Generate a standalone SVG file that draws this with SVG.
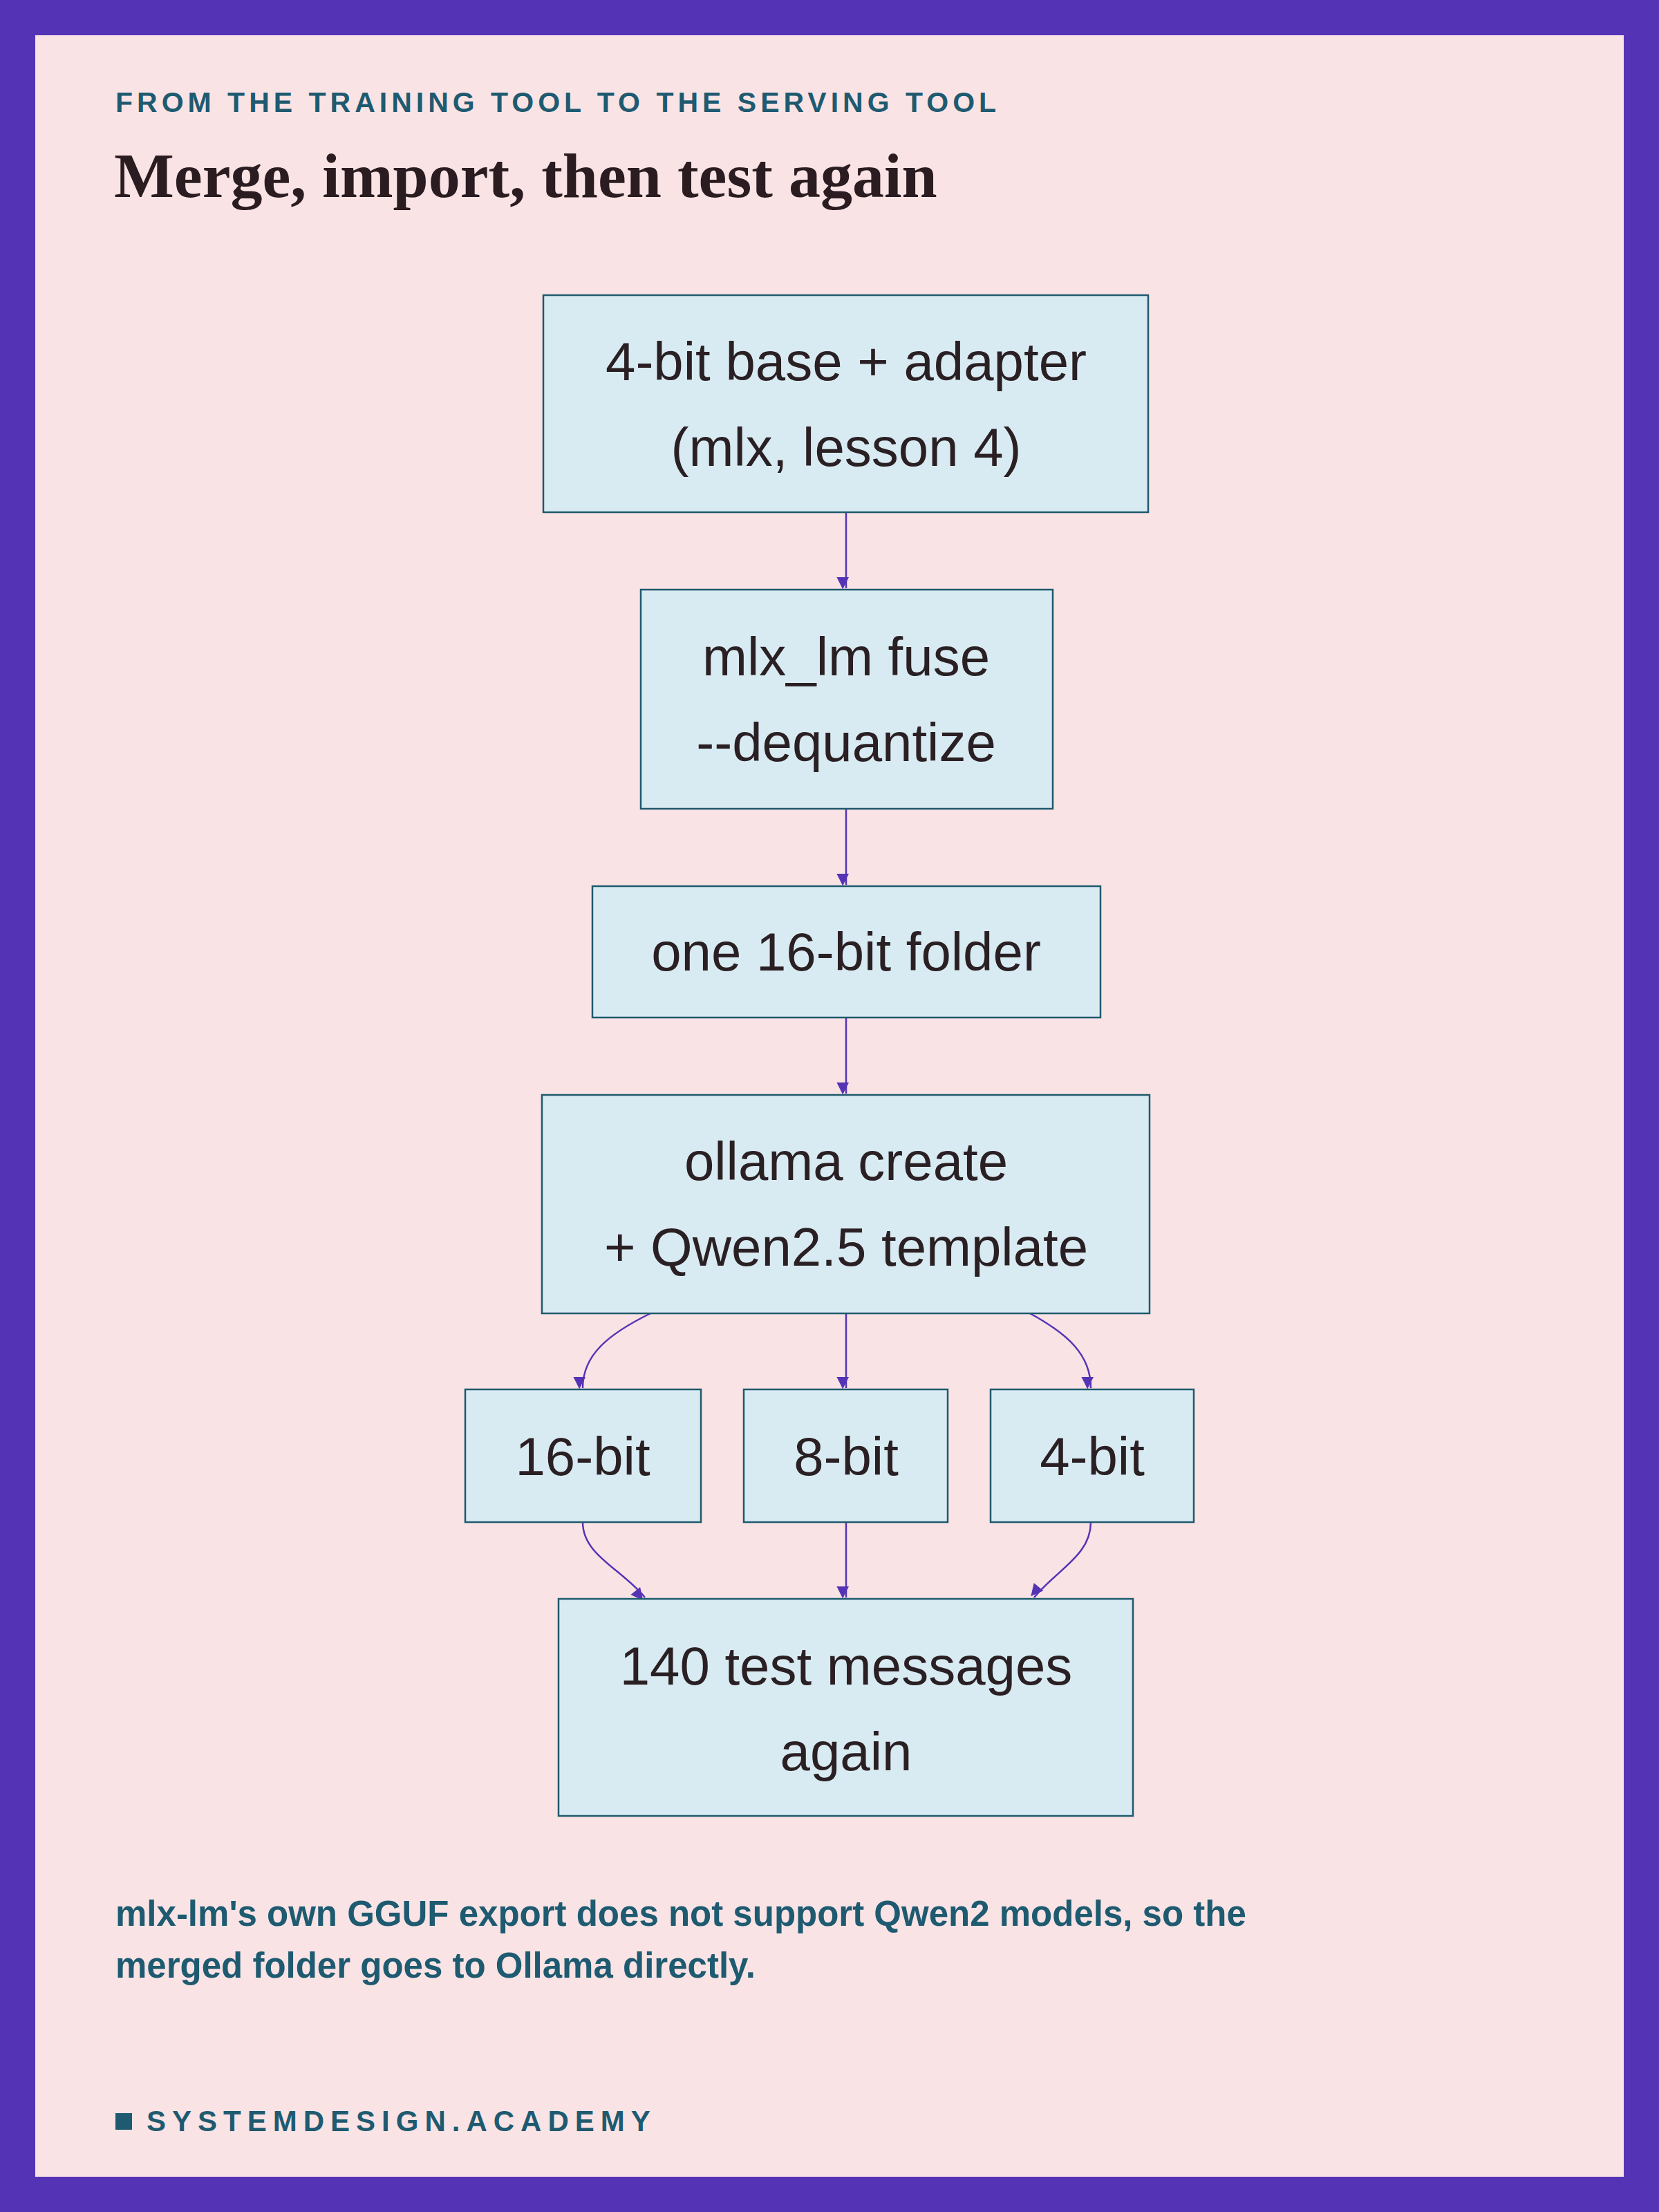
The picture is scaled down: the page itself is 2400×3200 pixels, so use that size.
<svg xmlns="http://www.w3.org/2000/svg" width="2400" height="3200" viewBox="0 0 2400 3200">
<style>
.box{fill:#d9ebf2;stroke:#1f5a6e;stroke-width:2.5}
.lbl{font-family:"Liberation Sans",Arial,sans-serif;font-size:78px;fill:#2a2024;text-anchor:middle}
.con{fill:none;stroke:#5533b5;stroke-width:2.5}
</style>
<defs>
<marker id="ah" viewBox="0 0 10 10" refX="9" refY="5" markerWidth="8" markerHeight="8" markerUnits="userSpaceOnUse" orient="auto" style="overflow:visible">
<path d="M0,0 L10,5 L0,10 z" fill="#5533b5" transform="scale(2.2) translate(-5,0)"/>
</marker>
</defs>
<rect x="0" y="0" width="2400" height="3200" fill="#5533b5"/>
<rect x="51" y="51" width="2298" height="3098" fill="#f9e3e5"/>
<text x="167" y="162" font-family="Liberation Sans,Arial,sans-serif" font-weight="bold" font-size="41" letter-spacing="6" fill="#1e5a70">FROM THE TRAINING TOOL TO THE SERVING TOOL</text>
<text x="165" y="285" font-family="Liberation Serif,Times New Roman,serif" font-weight="bold" font-size="92" fill="#2a1c20">Merge, import, then test again</text>
<g id="connectors">
<path class="con" d="M1224,741 V851" marker-end="url(#ah)"/>
<path class="con" d="M1224,1170 V1280" marker-end="url(#ah)"/>
<path class="con" d="M1224,1472 V1582" marker-end="url(#ah)"/>
<path class="con" d="M941,1900 C880,1930 843,1960 843,2008" marker-end="url(#ah)"/>
<path class="con" d="M1224,1900 V2008" marker-end="url(#ah)"/>
<path class="con" d="M1490,1900 C1545,1930 1578,1960 1578,2008" marker-end="url(#ah)"/>
<path class="con" d="M843,2202 C843,2250 900,2270 933,2311" marker-end="url(#ah)"/>
<path class="con" d="M1224,2202 V2311" marker-end="url(#ah)"/>
<path class="con" d="M1578,2202 C1578,2250 1530,2270 1496,2311" marker-end="url(#ah)"/>
</g>
<g id="n1"><rect class="box" x="786" y="427" width="875" height="314"/><text class="lbl" x="1224" y="550">4-bit base + adapter</text><text class="lbl" x="1224" y="674">(mlx, lesson 4)</text></g>
<g id="n2"><rect class="box" x="927" y="853" width="596" height="317"/><text class="lbl" x="1224" y="977">mlx_lm fuse</text><text class="lbl" x="1224" y="1101">--dequantize</text></g>
<g id="n3"><rect class="box" x="857" y="1282" width="735" height="190"/><text class="lbl" x="1224" y="1404">one 16-bit folder</text></g>
<g id="n4"><rect class="box" x="784" y="1584" width="879" height="316"/><text class="lbl" x="1224" y="1707">ollama create</text><text class="lbl" x="1224" y="1831">+ Qwen2.5 template</text></g>
<g id="n5"><rect class="box" x="673" y="2010" width="341" height="192"/><text class="lbl" x="843" y="2134">16-bit</text></g>
<g id="n6"><rect class="box" x="1076" y="2010" width="295" height="192"/><text class="lbl" x="1224" y="2134">8-bit</text></g>
<g id="n7"><rect class="box" x="1433" y="2010" width="294" height="192"/><text class="lbl" x="1580" y="2134">4-bit</text></g>
<g id="n8"><rect class="box" x="808" y="2313" width="831" height="314"/><text class="lbl" x="1224" y="2437">140 test messages</text><text class="lbl" x="1224" y="2561">again</text></g>
<text font-family="Liberation Sans,Arial,sans-serif" font-weight="bold" font-size="51" fill="#1e5a70"><tspan x="167" y="2786">mlx-lm's own GGUF export does not support Qwen2 models, so the</tspan><tspan x="167" y="2861">merged folder goes to Ollama directly.</tspan></text>
<rect x="167" y="3057" width="24" height="24" fill="#1e5a70"/>
<text x="212" y="3083" font-family="Liberation Sans,Arial,sans-serif" font-weight="bold" font-size="42" letter-spacing="9" fill="#1e5a70">SYSTEMDESIGN.ACADEMY</text>
</svg>
